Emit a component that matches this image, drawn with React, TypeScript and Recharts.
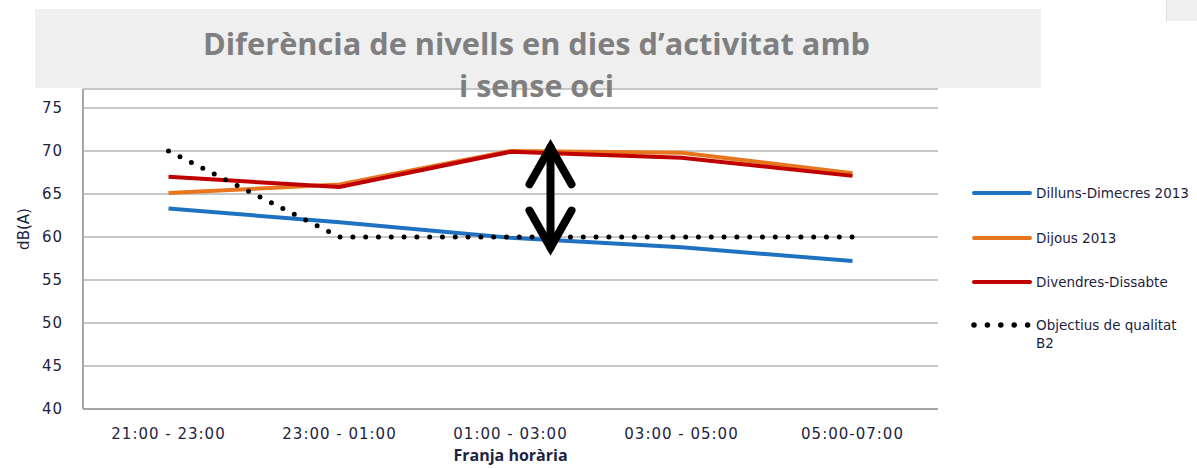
import React from 'react';
import { LineChart, Line, XAxis, YAxis, CartesianGrid, ReferenceLine } from 'recharts';

const franges = ['21:00 - 23:00', '23:00 - 01:00', '01:00 - 03:00', '03:00 - 05:00', '05:00-07:00'];
const dillunsDimecres = [63.3, 61.7, 59.9, 58.8, 57.2];
const dijous = [65.1, 66.1, 70.0, 69.8, 67.4];
const divendresDissabte = [67.0, 65.8, 69.9, 69.2, 67.1];
const objectiuB2 = [70, 60, 60, 60, 60];
const yTicks = [40, 45, 50, 55, 60, 65, 70, 75];

// arrow between the Dijous peak and the B2 objective at 01:00 - 03:00
const fletxaFranja = '01:00 - 03:00';
const fletxaDalt = 70.9;
const fletxaBaix = 58.3;

const series = [
    { key: 'dilluns', name: 'Dilluns-Dimecres 2013', color: '#1f72c2' },
    { key: 'dijous', name: 'Dijous 2013', color: '#e8761e' },
    { key: 'divendres', name: 'Divendres-Dissabte', color: '#c00000' },
    { key: 'objectiu', name: 'Objectius de qualitat B2', color: '#000000' },
];

const data = franges.map((franja, i) => ({
    franja,
    dilluns: dillunsDimecres[i],
    dijous: dijous[i],
    divendres: divendresDissabte[i],
    objectiu: objectiuB2[i],
}));

const tickColor = '#1d2440';

const ArrowShape = (props: any) => {
    const { x1, y1, y2 } = props;
    const x = x1 + 40;
    const top = Math.min(y1, y2);
    const bot = Math.max(y1, y2);
    return (
        <g stroke="#000" strokeWidth={8} strokeLinecap="round" strokeLinejoin="miter" fill="none">
            <line x1={x} y1={top + 4} x2={x} y2={bot - 4} />
            <polyline points={`${x - 21},${top + 41} ${x},${top + 4} ${x + 21},${top + 41}`} />
            <polyline points={`${x - 21},${bot - 41} ${x},${bot - 4} ${x + 21},${bot - 41}`} />
        </g>
    );
};

const YLabel = (props: any) => {
    const { viewBox } = props;
    const cx = viewBox.x + 4;
    const cy = viewBox.y + viewBox.height / 2 - 20;
    return (
        <text
            x={cx}
            y={cy}
            transform={`rotate(-90 ${cx} ${cy})`}
            textAnchor="middle"
            dominantBaseline="central"
            fill={tickColor}
            fontSize={15}
            fontFamily="DejaVu Sans"
        >
            dB(A)
        </text>
    );
};

const legendRows = [193, 238, 282, 325];

const App: React.FC = () => {
    return (
        <div style={{ position: 'absolute', left: 0, top: 0, width: 1197, height: 468, background: '#fff', overflow: 'hidden' }}>
            <LineChart width={1197} height={468} data={data} margin={{ top: 89, right: 259, bottom: 0, left: 20 }}>
                <CartesianGrid vertical={false} stroke="#b5b5b5" strokeWidth={1.5} />
                <XAxis
                    dataKey="franja"
                    height={59}
                    interval={0}
                    padding={{ left: 85.5, right: 85.5 }}
                    axisLine={{ stroke: '#a6a6a6', strokeWidth: 2 }}
                    tickLine={false}
                    tickMargin={13}
                    tick={{ fill: tickColor, fontSize: 15, fontFamily: 'DejaVu Sans', letterSpacing: 1 }}
                    label={{
                        value: 'Franja horària',
                        position: 'insideBottom',
                        offset: 7,
                        style: { fill: tickColor, fontSize: 16, fontWeight: 700, fontFamily: 'Open Sans' },
                    }}
                />
                <YAxis
                    width={63}
                    domain={[40, 77.2]}
                    ticks={yTicks}
                    allowDataOverflow
                    axisLine={{ stroke: '#a6a6a6', strokeWidth: 2 }}
                    tickLine={false}
                    tickMargin={14}
                    tick={{ fill: tickColor, fontSize: 15, fontFamily: 'DejaVu Sans', letterSpacing: 1 }}
                    label={<YLabel />}
                />
                <Line dataKey="dilluns" name={series[0].name} stroke={series[0].color} strokeWidth={4} dot={false} isAnimationActive={false} />
                <Line dataKey="dijous" name={series[1].name} stroke={series[1].color} strokeWidth={4} dot={false} isAnimationActive={false} />
                <Line dataKey="divendres" name={series[2].name} stroke={series[2].color} strokeWidth={4} dot={false} isAnimationActive={false} />
                <Line
                    dataKey="objectiu"
                    name={series[3].name}
                    stroke={series[3].color}
                    strokeWidth={5}
                    strokeDasharray="0 12.8"
                    strokeLinecap="round"
                    dot={false}
                    isAnimationActive={false}
                />
                <ReferenceLine
                    segment={[{ x: fletxaFranja, y: fletxaDalt }, { x: fletxaFranja, y: fletxaBaix }]}
                    ifOverflow="visible"
                    shape={ArrowShape}
                />
            </LineChart>

            {/* title box */}
            <svg width={1197} height={110} style={{ position: 'absolute', left: 0, top: 0, pointerEvents: 'none' }}>
                <rect x={35} y={9} width={1006} height={79} fill="#efefef" />
                <g fill="#7f7f7f" fontFamily="Open Sans" fontWeight={700} fontSize={31} textAnchor="middle">
                    <text x={536.5} y={55} textLength={667} lengthAdjust="spacingAndGlyphs">
                        Diferència de nivells en dies d’activitat amb
                    </text>
                    <text x={536.5} y={97} textLength={155} lengthAdjust="spacingAndGlyphs">
                        i sense oci
                    </text>
                </g>
            </svg>
            <div style={{ position: 'absolute', left: 1166, top: 0, width: 31, height: 21, background: '#f0f0f0', borderLeft: '1px solid #dcdcdc' }} />

            {/* legend */}
            {series.map((s, i) => (
                <div key={s.key} style={{ position: 'absolute', left: 971, top: legendRows[i] - 9, display: 'flex', alignItems: 'flex-start' }}>
                    <svg width={62} height={18} style={{ flex: 'none' }}>
                        <line
                            x1={3}
                            y1={9}
                            x2={59}
                            y2={9}
                            stroke={s.color}
                            strokeWidth={s.key === 'objectiu' ? 5.5 : 4}
                            strokeLinecap="round"
                            strokeDasharray={s.key === 'objectiu' ? '0 13.4' : undefined}
                        />
                    </svg>
                    <div
                        style={{
                            marginLeft: 3,
                            width: 160,
                            fontFamily: 'DejaVu Sans',
                            fontSize: 13.5,
                            lineHeight: '18px',
                            color: '#1d1d3f',
                        }}
                    >
                        {s.key === 'objectiu' ? (
                            <>
                                Objectius de qualitat
                                <br />
                                B2
                            </>
                        ) : (
                            s.name
                        )}
                    </div>
                </div>
            ))}
        </div>
    );
};

export default App;
